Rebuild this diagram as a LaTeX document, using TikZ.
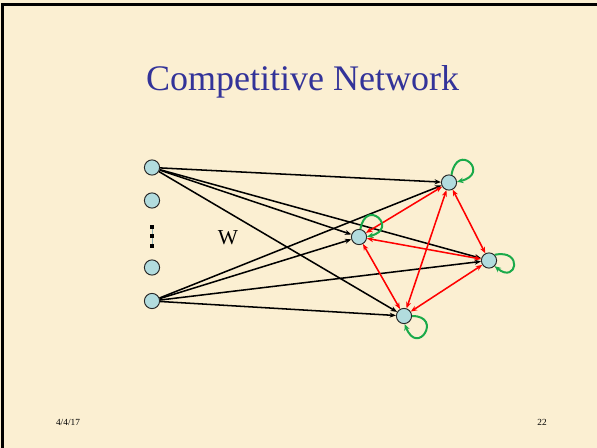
\documentclass[tikz,border=0pt]{standalone}
\usepackage{fontspec}
\setmainfont{Liberation Serif}
\usetikzlibrary{arrows.meta}
\definecolor{bg}{HTML}{FBEFD2}
\definecolor{nodefill}{HTML}{B2DCDE}
\definecolor{titleblue}{HTML}{333399}
\definecolor{loopgreen}{HTML}{1AAA4A}
\begin{document}
\begin{tikzpicture}[x=0.75pt,y=-0.75pt,
  neuron/.style={circle,draw=black!85,line width=0.7pt,fill=nodefill,minimum size=11.4pt,inner sep=0pt},
  wline/.style={black,line width=1.15pt,-{Stealth[length=4.8pt,width=3.8pt]}},
  rline/.style={red,line width=1.15pt,{Stealth[length=4.8pt,width=3.8pt]}-{Stealth[length=4.8pt,width=3.8pt]}},
  gloop/.style={loopgreen,line width=1.5pt,-{Stealth[length=4.8pt,width=4.2pt]}},
  dotsq/.style={fill=black,minimum size=3pt,inner sep=0pt,draw=none}]
\fill[bg] (0,0) rectangle (597,448);
\useasboundingbox (0,0) rectangle (597,448);
\draw[black,line width=2.4pt] (2.5,448) -- (2.5,4.5) -- (597,4.5);
\node[titleblue,font=\fontsize{27}{32}\selectfont,anchor=base] (title) at (302.5,91) {Competitive Network};
% inputs
\node[neuron] (i1) at (152,167.5) {};
\node[neuron] (i2) at (152,200.5) {};
\node[neuron] (i3) at (152,267.5) {};
\node[neuron] (i4) at (152,301) {};
\draw[nodefill!80!black,line width=0.6pt] (152,226) -- (152,248);
\node[dotsq] (d1) at (152,227) {};
\node[dotsq] (d2) at (152,236.5) {};
\node[dotsq] (d3) at (152,246.5) {};
\node[font=\fontsize{16}{19}\selectfont] (w) at (228,238) {W};
% outputs
\node[neuron] (A) at (449,182.5) {};
\node[neuron] (B) at (359,237) {};
\node[neuron] (C) at (489,260.5) {};
\node[neuron] (D) at (404,316) {};
% weights
\foreach \s in {i1,i4}{
  \foreach \t in {A,B,C,D}{
    \draw[wline] (\s) -- (\t);
  }
}
% lateral
\draw[rline] (A) -- (B);
\draw[rline] (A) -- (C);
\draw[rline] (A) -- (D);
\draw[rline] (B) -- (C);
\draw[rline] (B) -- (D);
\draw[rline] (C) -- (D);
% self loops
\draw[gloop] (A.72) .. controls +(6,-34) and +(34,-8) .. (A.5);
\draw[gloop] (B.80) .. controls +(6,-32) and +(32,-8) .. (B.2);
\draw[gloop] (C.45) .. controls +(29,-6) and +(22,18) .. (C.-45);
\draw[gloop] (D.0) .. controls +(31,0) and +(13,33) .. (D.-85);
% footer
\node[font=\fontsize{7}{8}\selectfont,anchor=base] (date) at (68,426) {4/4/17};
\node[font=\fontsize{7}{8}\selectfont,anchor=base] (page) at (542,426) {22};
\end{tikzpicture}
\end{document}
